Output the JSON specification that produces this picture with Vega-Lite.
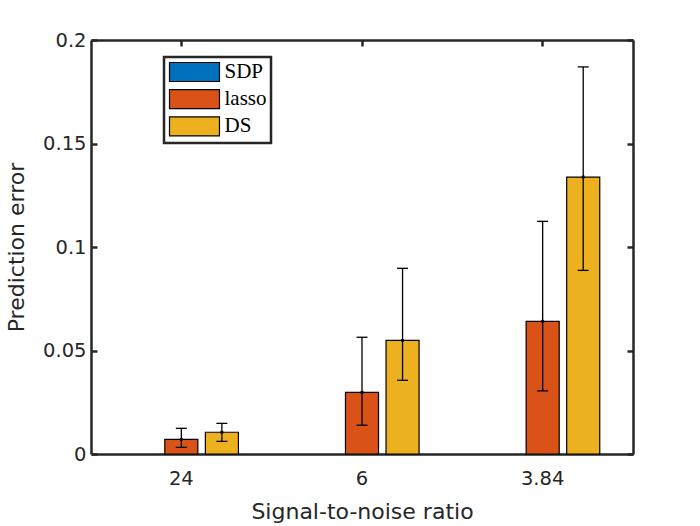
{
  "$schema": "https://vega.github.io/schema/vega-lite/v6.json",
  "width": 542,
  "height": 414,
  "autosize": {"type": "none"},
  "padding": {"left": 91, "top": 40, "right": 67, "bottom": 72},
  "background": "white",
  "config": {
    "view": {"stroke": null},
    "axis": {
      "domainColor": "#262626",
      "domainWidth": 2.5,
      "tickColor": "#262626",
      "tickWidth": 2.5,
      "tickSize": -6,
      "grid": false,
      "zindex": 1,
      "labelFont": "DejaVu Sans",
      "labelFontSize": 19.5,
      "labelColor": "#262626",
      "titleFont": "DejaVu Sans",
      "titleFontSize": 22,
      "titleFontWeight": "normal",
      "titleColor": "#262626"
    },
    "legend": {
      "orient": "none",
      "legendX": 73,
      "legendY": 17,
      "padding": 4.5,
      "strokeColor": "#262626",
      "strokeWidth": 2.5,
      "fillColor": "white",
      "symbolType": "M-1,-1H4.26V1H-1Z",
      "symbolSize": 361,
      "symbolStrokeColor": "black",
      "symbolStrokeWidth": 1.2,
      "symbolOpacity": 1,
      "labelFont": "Liberation Serif",
      "labelFontSize": 21,
      "labelColor": "black",
      "labelOffset": 35,
      "rowPadding": 2.2,
      "title": null
    }
  },
  "datasets": {
    "bars": [
      {"snr": "24", "method": "lasso", "value": 0.0071},
      {"snr": "24", "method": "DS", "value": 0.0105},
      {"snr": "6", "method": "lasso", "value": 0.0298},
      {"snr": "6", "method": "DS", "value": 0.0549},
      {"snr": "3.84", "method": "lasso", "value": 0.0641},
      {"snr": "3.84", "method": "DS", "value": 0.1338}
    ],
    "err": [
      {"snr": "24", "method": "lasso", "value": 0.0071, "lo": 0.0032, "hi": 0.0124},
      {"snr": "24", "method": "DS", "value": 0.0105, "lo": 0.0061, "hi": 0.0148},
      {"snr": "6", "method": "lasso", "value": 0.0298, "lo": 0.0139, "hi": 0.0564},
      {"snr": "6", "method": "DS", "value": 0.0549, "lo": 0.0356, "hi": 0.0897},
      {"snr": "3.84", "method": "lasso", "value": 0.0641, "lo": 0.0305, "hi": 0.1124},
      {"snr": "3.84", "method": "DS", "value": 0.1338, "lo": 0.0887, "hi": 0.187}
    ]
  },
  "layer": [
    {
      "data": {"name": "bars"},
      "mark": {"type": "bar", "stroke": "black", "strokeWidth": 1.2},
      "encoding": {
        "x": {
          "field": "snr", "type": "nominal", "sort": ["24", "6", "3.84"],
          "scale": {"domain": ["24", "6", "3.84"], "paddingInner": 0, "paddingOuter": 0},
          "axis": {"orient": "bottom", "title": "Signal-to-noise ratio", "labelAngle": 0, "labelPadding": 21, "titlePadding": 14}
        },
        "xOffset": {
          "field": "method", "type": "nominal",
          "scale": {"domain": ["SDP", "lasso", "DS"], "paddingInner": 0.185, "paddingOuter": 0.82}
        },
        "y": {
          "field": "value", "type": "quantitative",
          "scale": {"domain": [0, 0.2], "nice": false},
          "axis": {"orient": "left", "title": "Prediction error", "values": [0, 0.05, 0.1, 0.15, 0.2], "format": "~g", "labelPadding": 11, "titlePadding": 14}
        },
        "color": {
          "field": "method", "type": "nominal",
          "scale": {"domain": ["SDP", "lasso", "DS"], "range": ["#0072BD", "#D95319", "#EDB120"]},
          "legend": {}
        }
      }
    },
    {
      "data": {"name": "err"},
      "mark": {"type": "rule", "color": "black", "strokeWidth": 1.3},
      "encoding": {
        "x": {
          "field": "snr", "type": "nominal", "sort": ["24", "6", "3.84"],
          "axis": {"orient": "top", "labels": false, "title": null}
        },
        "xOffset": {"field": "method", "type": "nominal"},
        "y": {
          "field": "lo", "type": "quantitative",
          "axis": {"orient": "right", "labels": false, "title": null, "values": [0, 0.05, 0.1, 0.15, 0.2]}
        },
        "y2": {"field": "hi"}
      }
    },
    {
      "data": {"name": "err"},
      "mark": {"type": "tick", "color": "black", "thickness": 1.3, "size": 11, "opacity": 1},
      "encoding": {
        "x": {"field": "snr", "type": "nominal", "sort": ["24", "6", "3.84"], "axis": null},
        "xOffset": {"field": "method", "type": "nominal"},
        "y": {"field": "hi", "type": "quantitative", "axis": null}
      }
    },
    {
      "data": {"name": "err"},
      "mark": {"type": "tick", "color": "black", "thickness": 1.3, "size": 11, "opacity": 1},
      "encoding": {
        "x": {"field": "snr", "type": "nominal", "sort": ["24", "6", "3.84"], "axis": null},
        "xOffset": {"field": "method", "type": "nominal"},
        "y": {"field": "lo", "type": "quantitative", "axis": null}
      }
    },
    {
      "data": {"name": "err"},
      "mark": {"type": "point", "shape": "square", "filled": true, "color": "black", "size": 8, "opacity": 1},
      "encoding": {
        "x": {"field": "snr", "type": "nominal", "sort": ["24", "6", "3.84"], "axis": null},
        "xOffset": {"field": "method", "type": "nominal"},
        "y": {"field": "value", "type": "quantitative", "axis": null}
      }
    }
  ],
  "resolve": {"axis": {"x": "independent", "y": "independent"}}
}
